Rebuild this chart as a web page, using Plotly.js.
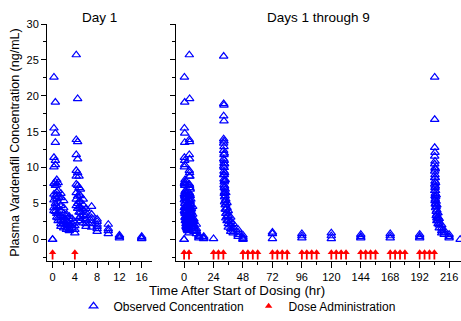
<!DOCTYPE html>
<html>
<head>
<meta charset="utf-8">
<script src="https://cdn.plot.ly/plotly-3.0.1.min.js"></script>
<style>html,body{margin:0;padding:0;background:#fff;}#chart{width:461px;height:321px;}</style>
</head>
<body>
<div id="chart"></div>
<script>
// ---------- DATA ----------
// Observed concentrations (ng/mL), grouped as [time (hr), [values...]]
const day1Obs = [
  [0,    [0, 0]],
  [0.25, [22.6, 15.5, 11.4, 10.1, 7.8, 6.3, 5.5, 4.4, 4.0]],
  [0.5,  [19.1, 14.8, 13.5, 11.0, 10.4, 8.0, 7.5, 6.0, 5.0, 3.9]],
  [0.75, [8.3, 7.6, 6.6, 6.2, 5.7, 4.6, 3.6, 3.1]],
  [1,    [7.9, 6.8, 6.0, 5.2, 4.4, 3.7, 3.0, 2.6]],
  [1.5,  [6.4, 5.8, 4.7, 4.0, 3.3, 2.7, 2.2, 1.8]],
  [2,    [5.4, 4.4, 3.6, 3.0, 2.5, 2.1, 1.6]],
  [2.5,  [3.5, 3.2, 2.6, 2.1, 1.7, 1.4]],
  [3,    [3.2, 2.8, 2.3, 1.9, 1.5, 1.2]],
  [3.5,  [2.9, 2.2, 1.6]],
  [4,    [2.4, 1.9, 1.4, 0.9]],
  [4.25, [25.7, 13.9, 11.8, 9.6, 8.8, 7.7, 6.5, 5.6, 4.7]],
  [4.5,  [19.6, 13.6, 11.2, 9.3, 7.5, 6.0, 5.0, 4.3]],
  [4.75, [8.8, 7.2, 6.3, 5.3, 4.5, 3.8, 3.0]],
  [5,    [7.0, 6.1, 5.3, 4.5, 3.8, 3.2, 2.6]],
  [5.5,  [5.6, 4.8, 4.1, 3.4, 2.9, 2.3]],
  [6,    [4.3, 3.8, 3.3, 2.7, 2.2, 1.8]],
  [7,    [4.6, 3.5, 3.0, 2.6, 2.2, 1.7]],
  [8,    [2.8, 2.5, 2.1, 1.8, 1.5, 1.1]],
  [10,   [2.1, 1.5, 1.2, 0.8]],
  [12,   [0.6, 0.4, 0.2]],
  [16,   [0.4, 0.2, 0.1]]
];
const day2Obs = [
  [24,    [0.1]],
  [32.25, [25.5, 18.9, 17.2, 14.0, 13.4, 12.4, 11.2, 10.2, 9.0]],
  [32.5,  [18.7, 16.5, 13.7, 12.9, 11.8, 10.6, 9.5, 8.4, 7.6]],
  [32.75, [12.0, 11.0, 10.0, 9.0, 8.0, 7.2, 6.4]],
  [33,    [10.5, 9.3, 8.2, 7.4, 6.6, 5.9, 5.2]],
  [33.5,  [8.3, 7.0, 6.1, 5.4, 4.8, 4.2]],
  [34,    [6.5, 5.6, 4.9, 4.2, 3.6, 3.0]],
  [35,    [5.1, 4.4, 3.8, 3.2, 2.6]],
  [36,    [4.0, 3.3, 2.7, 2.2, 1.7]],
  [38,    [3.1, 2.5, 2.0, 1.5, 1.1]],
  [40,    [2.2, 1.7, 1.3, 0.9]],
  [44,    [1.4, 1.0, 0.7, 0.4]],
  [48,    [0.6, 0.3, 0.1, 0.0]]
];
const troughObs = [
  [72,  [1.0, 0.8, 0.1]],
  [96,  [0.8, 0.5, 0.2]],
  [120, [0.9, 0.5, 0.1]],
  [144, [0.7, 0.4, 0.2]],
  [168, [0.8, 0.5, 0.2]],
  [192, [0.7, 0.4, 0.2]]
];
const day9Obs = [
  [204.25, [22.6, 16.7, 12.8, 11.6, 10.5, 9.5, 8.6, 7.7, 6.8]],
  [204.5,  [12.1, 10.9, 10.0, 9.0, 8.1, 7.2, 6.1, 5.4]],
  [204.75, [9.8, 8.6, 7.4, 6.4, 5.6, 4.9]],
  [205,    [7.9, 6.8, 5.9, 5.0, 4.4]],
  [205.5,  [6.2, 5.3, 4.6, 3.9, 3.3]],
  [206,    [4.8, 4.1, 3.5, 3.0, 2.6]],
  [207,    [3.7, 3.1, 2.7, 2.2]],
  [208,    [2.9, 2.4, 2.0, 1.6]],
  [210,    [2.0, 1.6, 1.2, 0.9]],
  [212,    [1.3, 1.0, 0.7]],
  [216,    [0.7, 0.4, 0.2]],
  [225,    [0.0]]
];
// Dose administration times (hr)
const doseDay1 = [0, 4];
const doseAll = [0, 4, 24, 28, 32, 48, 52, 56, 60, 72, 76, 80, 84, 96, 100, 104, 108,
  120, 124, 128, 132, 144, 148, 152, 156, 168, 172, 176, 180, 192, 196, 200, 204];

// ---------- BUILD ----------
function flatten(groups) {
  const x = [], y = [];
  groups.forEach(g => g[1].forEach(v => { x.push(g[0]); y.push(v); }));
  return {x, y};
}
const d1 = flatten(day1Obs);
const all = flatten(day1Obs.concat(day2Obs, troughObs, day9Obs));

const FONT = 'Liberation Sans, Arial, sans-serif';
const BLUE = '#0000ff', RED = '#ff0000';
const ARROW_LEVEL = -1.8;
const GRID_LEVELS = [0, 5, 10, 15, 20, 25];

const obsMarker = {symbol: 'triangle-up-open', size: 7.5, color: BLUE, line: {color: BLUE, width: 1.2}};
const doseMarker = {symbol: 'triangle-up', size: 6.5, color: RED, line: {width: 0}};
const doseErr = {type: 'constant', symmetric: false, value: 0, valueminus: 1.0, width: 0, thickness: 1.8, color: RED};

const traces = [
  {type: 'scatter', mode: 'markers', name: 'Observed Concentration', x: d1.x, y: d1.y,
   xaxis: 'x', yaxis: 'y', marker: obsMarker, legendgroup: 'obs', showlegend: true},
  {type: 'scatter', mode: 'markers', name: 'Observed Concentration', x: all.x, y: all.y,
   xaxis: 'x2', yaxis: 'y2', marker: obsMarker, legendgroup: 'obs', showlegend: false},
  {type: 'scatter', mode: 'markers', name: 'Dose Administration', x: doseDay1, y: doseDay1.map(() => ARROW_LEVEL),
   xaxis: 'x', yaxis: 'y', marker: doseMarker, error_y: doseErr, legendgroup: 'dose', showlegend: true},
  {type: 'scatter', mode: 'markers', name: 'Dose Administration', x: doseAll, y: doseAll.map(() => ARROW_LEVEL),
   xaxis: 'x2', yaxis: 'y2', marker: doseMarker, error_y: doseErr, legendgroup: 'dose', showlegend: false}
];

const axisCommon = {
  showline: true, linecolor: '#000', linewidth: 1, mirror: false,
  ticks: 'outside', ticklen: 5, tickwidth: 1, tickcolor: '#000',
  tickfont: {family: FONT, size: 11, color: '#000'}, zeroline: false
};
const yCommon = Object.assign({}, axisCommon, {
  range: [-3, 30], tick0: 0, dtick: 5, showgrid: false,
  minor: {dtick: 2.5, ticklen: 3, tickcolor: '#000', ticks: 'outside', showgrid: false}
});
// grid-only overlay axes (horizontal lines at the gridline levels, none at the top edge)
const gridAxis = {
  range: [-3, 30], tickmode: 'array', tickvals: GRID_LEVELS, showgrid: true, gridcolor: '#8c8c8c',
  gridwidth: 1, showticklabels: false, ticks: '', showline: false, zeroline: false
};

const layout = {
  width: 461, height: 321,
  margin: {l: 47, r: 0, t: 24, b: 54},
  paper_bgcolor: '#fff', plot_bgcolor: '#fff',
  font: {family: FONT, color: '#000'},
  showlegend: true,
  legend: {orientation: 'h', x: 0.459, xanchor: 'center', y: -0.19, yanchor: 'middle',
           font: {family: FONT, size: 12, color: '#000'}, bgcolor: 'rgba(0,0,0,0)'},
  xaxis: Object.assign({}, axisCommon, {domain: [0, 0.253], range: [-1, 17.8], tick0: 0, dtick: 4,
    showgrid: false, ticklen: 6, minor: {dtick: 2, ticklen: 3, tickcolor: '#000', ticks: 'outside', showgrid: false}}),
  xaxis2: Object.assign({}, axisCommon, {domain: [0.311, 1], range: [-6.8, 225.7], tick0: 0, dtick: 24,
    showgrid: false, ticklen: 6, anchor: 'y2', minor: {dtick: 12, ticklen: 3, tickcolor: '#000', ticks: 'outside', showgrid: false}}),
  yaxis: Object.assign({}, yCommon, {anchor: 'x',
    title: {text: 'Plasma Vardenafil Concentration (ng/mL)', standoff: 4, font: {family: FONT, size: 12.5, color: '#000'}}}),
  yaxis2: Object.assign({}, yCommon, {anchor: 'x2', showticklabels: false}),
  yaxis3: Object.assign({}, gridAxis, {overlaying: 'y', anchor: 'x'}),
  yaxis4: Object.assign({}, gridAxis, {overlaying: 'y2', anchor: 'x2'}),
  annotations: [
    {text: 'Day 1', xref: 'x domain', yref: 'paper', x: 0.5, y: 1, xanchor: 'center', yanchor: 'bottom', yshift: -3,
     showarrow: false, font: {family: FONT, size: 13.5, color: '#000'}},
    {text: 'Days 1 through 9', xref: 'x2 domain', yref: 'paper', x: 0.5, y: 1, xanchor: 'center', yanchor: 'bottom', yshift: -3,
     showarrow: false, font: {family: FONT, size: 13.5, color: '#000'}},
    {text: 'Time After Start of Dosing (hr)', xref: 'paper', yref: 'paper', x: 0.458, y: -0.125,
     xanchor: 'center', yanchor: 'middle', showarrow: false, font: {family: FONT, size: 13.3, color: '#000'}}
  ]
};

Plotly.newPlot('chart', traces, layout, {staticPlot: true, displayModeBar: false});
</script>
</body>
</html>
